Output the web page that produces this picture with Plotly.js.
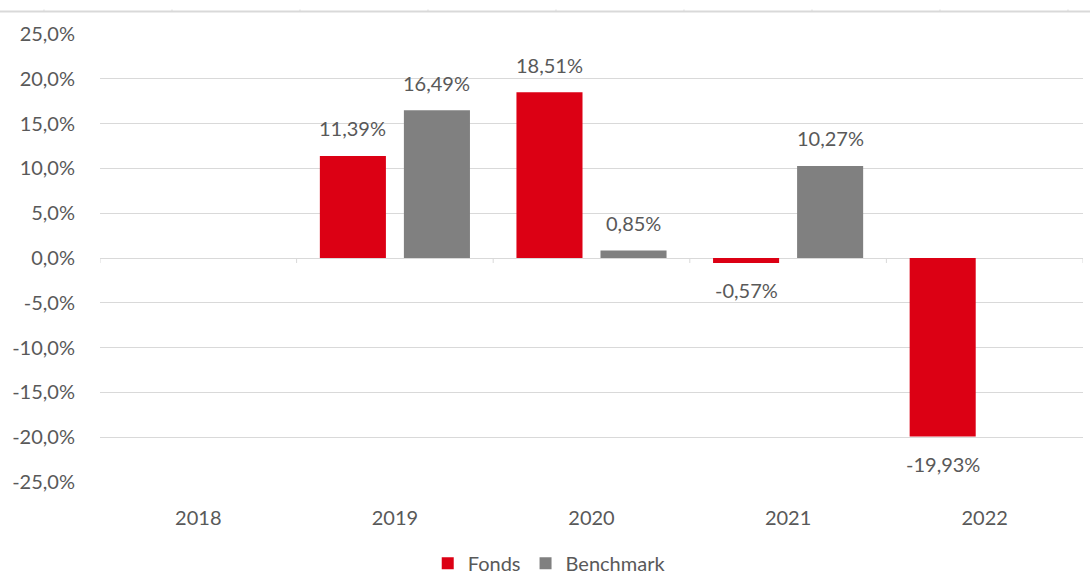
<!DOCTYPE html>
<html>
<head>
<meta charset="utf-8">
<script src="https://cdn.plot.ly/plotly-3.0.1.min.js"></script>
<style>html,body{margin:0;padding:0;background:#fff;}#chart{width:1090px;height:576px;}</style>
</head>
<body>
<div id="chart"></div>
<script>
// ---- data ----
const years = ['2018', '2019', '2020', '2021', '2022'];
const fonds = [null, 11.39, 18.51, -0.57, -19.93];
const benchmark = [null, 16.49, 0.85, 10.27, null];
const yTickVals = [-25, -20, -15, -10, -5, 0, 5, 10, 15, 20, 25];
const yTickLabels = ['-25,0%', '-20,0%', '-15,0%', '-10,0%', '-5,0%', '0,0%', '5,0%', '10,0%', '15,0%', '20,0%', '25,0%'];
const seriesNames = ['Fonds', 'Benchmark'];

// ---- style / layout constants ----
const W = 1090, H = 576;
const M = {l: 100, r: 7, t: 34, b: 94};
const bargap = 0.145, bargroupgap = 0.214;
const RED = '#DC0014', GRAY = '#808080', TXT = '#595959', GRID = '#d9d9d9';
const FONT = 'Lato, "Open Sans", sans-serif';

const plotW = W - M.l - M.r, plotH = H - M.t - M.b;
const catW = plotW / years.length;
const slot = catW * (1 - bargap) / 2;

function fmt(v) { return v.toFixed(2).replace('.', ',') + '%'; }

const traces = [
  {type: 'bar', name: seriesNames[0], x: years, y: fonds, marker: {color: RED}, hoverinfo: 'skip'},
  {type: 'bar', name: seriesNames[1], x: years, y: benchmark, marker: {color: GRAY}, hoverinfo: 'skip'}
];

const annotations = [];
[[fonds, -slot / 2], [benchmark, slot / 2]].forEach(function (pair) {
  const arr = pair[0], dx = pair[1];
  arr.forEach(function (v, i) {
    if (v === null) return;
    const pos = v >= 0;
    annotations.push({
      x: i, y: v, xref: 'x', yref: 'y', text: fmt(v), showarrow: false,
      xshift: dx, yshift: pos ? 13.5 : -13, yanchor: pos ? 'bottom' : 'top', xanchor: 'center',
      font: {family: FONT, size: 20, color: TXT}
    });
  });
});

const shapes = [];
// decorative top border line with tiny ticks (outside the plot)
const yTop = 1 + (M.t - 11.5) / plotH;
shapes.push({type: 'line', xref: 'paper', yref: 'paper', x0: -M.l / plotW, x1: (W - M.l) / plotW, y0: yTop, y1: yTop,
  line: {color: GRID, width: 2}});
for (let px = 44; px < W; px += 128) {
  const xp = (px - M.l) / plotW;
  shapes.push({type: 'line', xref: 'paper', yref: 'paper', x0: xp, x1: xp, y0: yTop, y1: yTop + 2 / plotH,
    line: {color: GRID, width: 1}});
}
// category boundary tick marks on the zero axis line
for (let i = 0; i <= years.length; i++) {
  shapes.push({type: 'line', xref: 'x', yref: 'y', ysizemode: 'pixel', yanchor: 0,
    x0: i - 0.5, x1: i - 0.5, y0: 0, y1: -5, line: {color: GRID, width: 1}});
}

const layout = {
  width: W, height: H,
  margin: M,
  paper_bgcolor: '#fff', plot_bgcolor: '#fff',
  barmode: 'group', bargap: bargap, bargroupgap: bargroupgap,
  font: {family: FONT, size: 20, color: TXT},
  showlegend: true,
  legend: {orientation: 'h', xref: 'paper', x: 0.457, xanchor: 'center', yref: 'container', y: 0.022, yanchor: 'middle',
    font: {family: FONT, size: 20, color: TXT}},
  xaxis: {type: 'category', categoryorder: 'array', categoryarray: years, range: [-0.5, years.length - 0.5],
    showgrid: false, zeroline: false, showline: false, ticks: 'outside', ticklen: 18, tickcolor: 'rgba(0,0,0,0)',
    tickfont: {family: FONT, size: 20, color: TXT}, fixedrange: true},
  yaxis: {range: [-25, 25], tickmode: 'array', tickvals: yTickVals, ticktext: yTickLabels,
    showgrid: true, gridcolor: GRID, gridwidth: 1, zeroline: true, zerolinecolor: GRID, zerolinewidth: 1,
    showline: false, ticks: 'outside', ticklen: 20, tickcolor: 'rgba(0,0,0,0)',
    tickfont: {family: FONT, size: 20, color: TXT}, fixedrange: true},
  annotations: annotations,
  shapes: shapes
};

Plotly.newPlot('chart', traces, layout, {displayModeBar: false, staticPlot: true});
</script>
</body>
</html>
